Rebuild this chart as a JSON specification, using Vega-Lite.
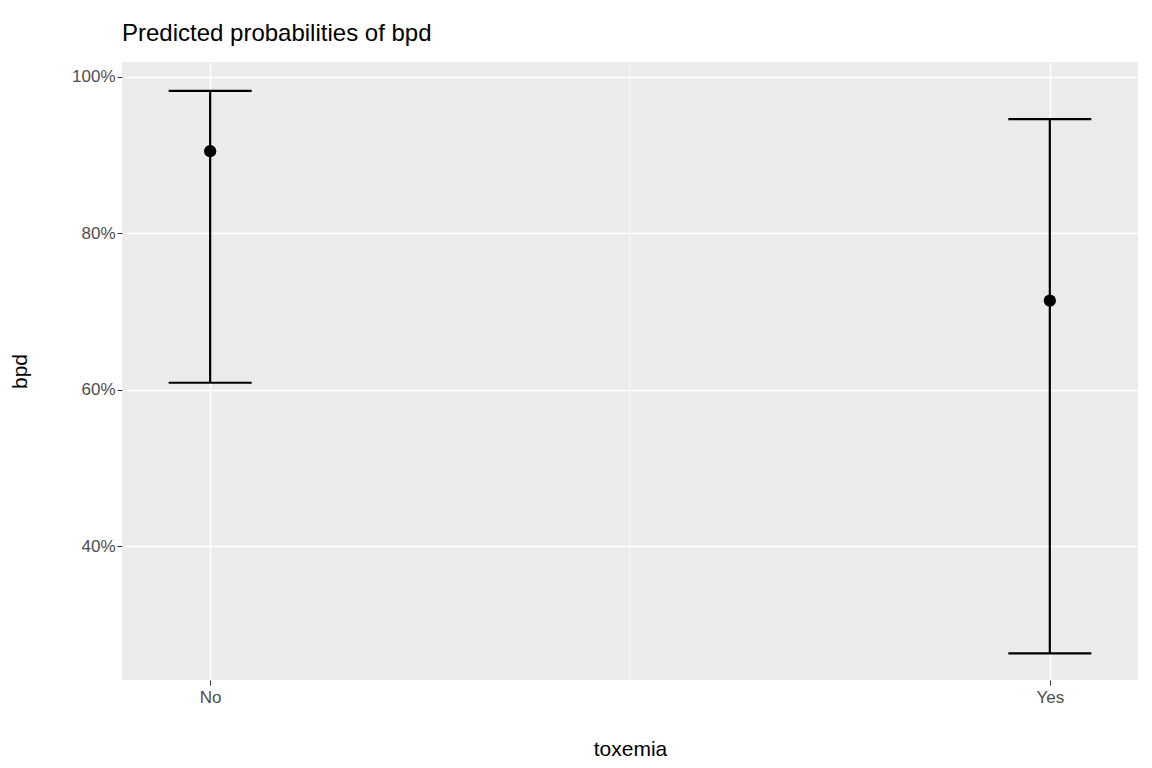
{
  "$schema": "https://vega.github.io/schema/vega-lite/v6.json",
  "width": 1016,
  "height": 618,
  "autosize": "none",
  "padding": {"left": 122, "top": 62, "right": 14, "bottom": 88},
  "background": "white",
  "title": {"text": "Predicted probabilities of bpd", "anchor": "start", "frame": "group", "fontSize": 24, "font": "Liberation Sans", "fontWeight": "normal", "color": "black", "offset": 16},
  "config": {
    "view": {"fill": "#EBEBEB", "stroke": null},
    "axis": {"domain": false, "gridColor": "white", "tickColor": "#333333", "tickSize": 5, "labelColor": "#4D4D4D", "labelFontSize": 17, "labelFont": "Liberation Sans", "titleFont": "Liberation Sans", "titleFontSize": 21, "titleFontWeight": "normal", "titleColor": "black"}
  },
  "data": {"values": [
    {"toxemia": "No", "pos": 1, "predicted": 0.905, "low": 0.609, "high": 0.982},
    {"toxemia": "Yes", "pos": 2, "predicted": 0.714, "low": 0.263, "high": 0.946}
  ]},
  "encoding": {
    "x": {"field": "pos", "type": "quantitative", "scale": {"domain": [0.895, 2.105], "nice": false, "zero": false},
      "axis": {"values": [1, 2], "labelExpr": "datum.value == 1 ? 'No' : 'Yes'", "title": "toxemia", "gridWidth": 1.5, "labelPadding": 4, "labelFontSize": 17, "titleFontSize": 21, "titleY": 58}}
  },
  "layer": [
    {
      "mark": {"type": "rule", "color": "white", "strokeWidth": 0.8},
      "data": {"values": [{"v": 0.3}, {"v": 0.5}, {"v": 0.7}, {"v": 0.9}]},
      "encoding": {"y": {"field": "v", "type": "quantitative", "scale": {"domain": [0.229, 1.019], "nice": false, "zero": false},
        "axis": {"values": [0.4, 0.6, 0.8, 1.0], "format": ".0%", "title": "bpd", "gridWidth": 1.5, "labelFontSize": 17, "titleFontSize": 21, "titleX": -92}}}
    },
    {
      "mark": {"type": "rule", "color": "white", "strokeWidth": 0.8},
      "data": {"values": [{"v": 1.5}]},
      "encoding": {"x": {"field": "v", "type": "quantitative"}}
    },
    {
      "mark": {"type": "rule", "color": "black", "strokeWidth": 2.2},
      "encoding": {
        "y": {"field": "low", "type": "quantitative"},
        "y2": {"field": "high"}
      }
    },
    {
      "mark": {"type": "tick", "orient": "horizontal", "color": "black", "opacity": 1, "size": 83, "thickness": 2.2},
      "encoding": {"y": {"field": "low", "type": "quantitative"}}
    },
    {
      "mark": {"type": "tick", "orient": "horizontal", "color": "black", "opacity": 1, "size": 83, "thickness": 2.2},
      "encoding": {"y": {"field": "high", "type": "quantitative"}}
    },
    {
      "mark": {"type": "point", "filled": true, "color": "black", "opacity": 1, "size": 150},
      "encoding": {"y": {"field": "predicted", "type": "quantitative"}}
    }
  ]
}
